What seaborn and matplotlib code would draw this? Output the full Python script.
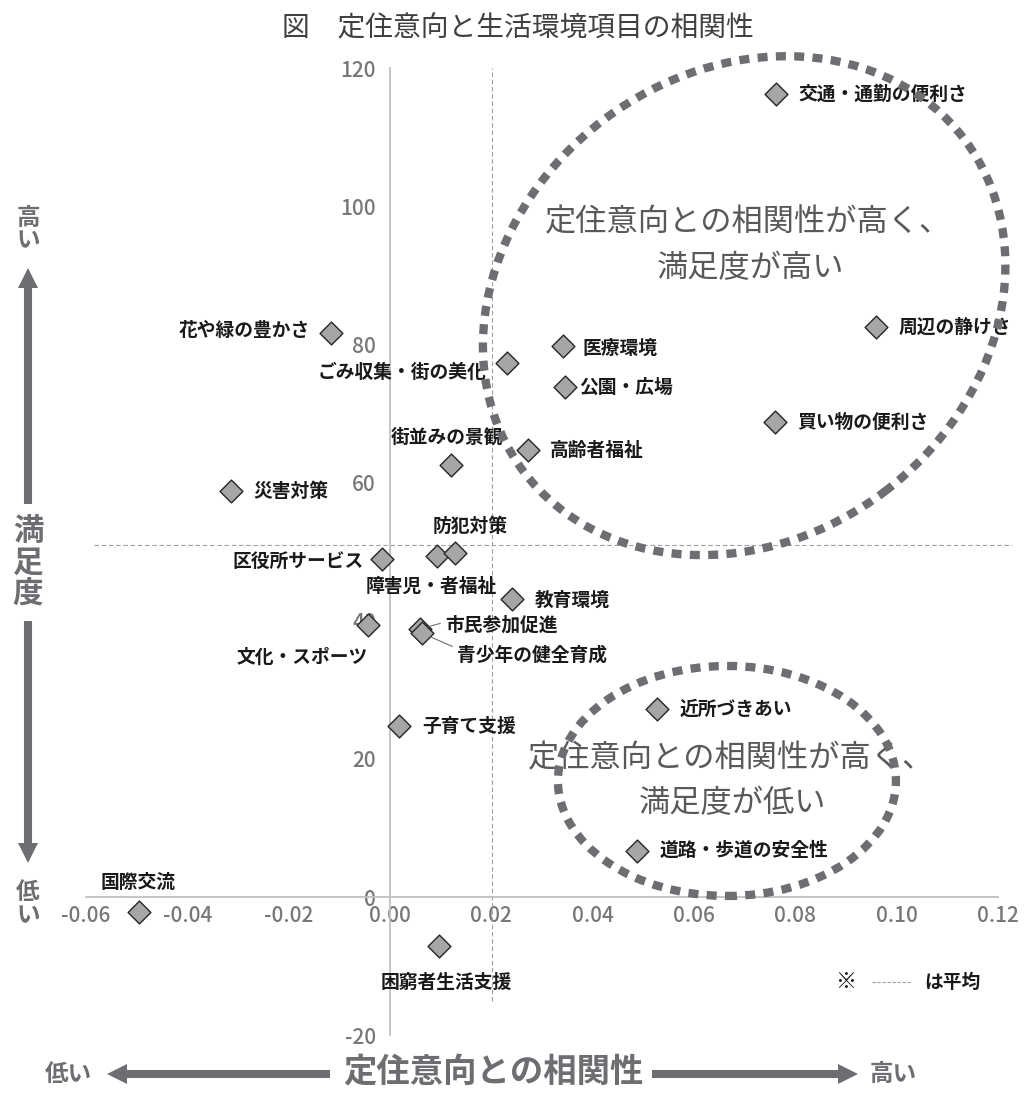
import matplotlib
matplotlib.use('Agg')
import matplotlib.pyplot as plt
import matplotlib.transforms as mtrans
from matplotlib.patches import Ellipse, FancyArrowPatch, ArrowStyle
import seaborn as sns
import pandas as pd

sns.set_theme(style='white')
plt.rcParams['font.family'] = ['Noto Sans CJK JP', 'DejaVu Sans']

# data
items = ['交通・通勤の便利さ', '周辺の静けさ', '医療環境', '公園・広場', '買い物の便利さ',
         '高齢者福祉', 'ごみ収集・街の美化', '花や緑の豊かさ', '街並みの景観', '災害対策',
         '区役所サービス', '障害児・者福祉', '防犯対策', '教育環境', '文化・スポーツ',
         '市民参加促進', '青少年の健全育成', '子育て支援', '近所づきあい', '道路・歩道の安全性',
         '国際交流', '困窮者生活支援']
correlation = [0.0761, 0.0960, 0.0342, 0.0346, 0.0760,
               0.0272, 0.0230, -0.0117, 0.0120, -0.0314,
               -0.0015, 0.0092, 0.0128, 0.0241, -0.0043,
               0.0059, 0.0063, 0.0018, 0.0526, 0.0487,
               -0.0495, 0.0097]
satisfaction = [116.2, 82.5, 79.7, 73.8, 68.8,
                64.7, 77.3, 81.6, 62.5, 58.8,
                49.0, 49.3, 49.8, 43.1, 39.4,
                38.8, 38.2, 24.7, 27.2, 6.7,
                -2.2, -7.1]
mean_corr = 0.0201
mean_sat = 51.0
x_ticks = [-0.06, -0.04, -0.02, 0.00, 0.02, 0.04, 0.06, 0.08, 0.10, 0.12]
y_ticks = [-20, 0, 20, 40, 60, 80, 100, 120]

# label offsets (pixels) and alignment
label_pos = {
    '交通・通勤の便利さ': (23, 0, 'left'),
    '周辺の静けさ': (22, 0, 'left'),
    '医療環境': (19, -2, 'left'),
    '公園・広場': (14, 0, 'left'),
    '買い物の便利さ': (22, -1, 'left'),
    '高齢者福祉': (22, 0, 'left'),
    'ごみ収集・街の美化': (-20, -9, 'right'),
    '花や緑の豊かさ': (-21, 3, 'right'),
    '街並みの景観': (-4, 28, 'center'),
    '災害対策': (22, -1, 'left'),
    '区役所サービス': (-19, -3, 'right'),
    '障害児・者福祉': (-5, -30, 'center'),
    '防犯対策': (15, 27, 'center'),
    '教育環境': (23, -1, 'left'),
    '文化・スポーツ': (0, -32, 'right'),
    '子育て支援': (23, 0, 'left'),
    '近所づきあい': (23, 0, 'left'),
    '道路・歩道の安全性': (23, 0, 'left'),
    '国際交流': (-1, 30, 'center'),
    '困窮者生活支援': (7, -36, 'center'),
}
leader_pos = {
    '市民参加促進': (25, 4, (0, 0.65)),
    '青少年の健全育成': (35, -22, (0, 0.85)),
}

df = pd.DataFrame({'item': items, 'corr': correlation, 'sat': satisfaction})

W, H = 1026, 1093
fig = plt.figure(figsize=(W / 100, H / 100), dpi=100)
ax = fig.add_axes([86 / W, 1 - 1035.2 / H, (998 - 86) / W, (1035.2 - 68) / H])

def fpx(x, y):
    return (x / W, 1 - y / H)

grey_txt = '#777777'
dark = '#6d6e71'

# mean lines
ax.plot([-0.0585, 0.1228], [mean_sat, mean_sat], color='#a0a0a0', lw=0.8,
        ls=(0, (4, 2.5)), clip_on=False, zorder=1)
ax.plot([mean_corr, mean_corr], [-15, 120], color='#a0a0a0', lw=0.8,
        ls=(0, (4, 2.5)), clip_on=False, zorder=1)

sns.scatterplot(data=df, x='corr', y='sat', marker='D', s=135, color='#a6a6a6',
                edgecolor='#262626', linewidth=1.0, ax=ax, zorder=4, legend=False)

ax.set_xlim(-0.06, 0.12)
ax.set_ylim(-20, 120)
ax.set_xticks(x_ticks)
ax.set_xticklabels([f'{v:.2f}' for v in x_ticks])
ax.set_yticks(y_ticks)
ax.set_yticklabels([str(v) for v in y_ticks])
ax.set_xlabel('')
ax.set_ylabel('')
for side in ['top', 'right']:
    ax.spines[side].set_visible(False)
ax.spines['left'].set_position(('data', 0))
ax.spines['bottom'].set_position(('data', 0))
for side in ['left', 'bottom']:
    ax.spines[side].set_color('#c0c0c0')
    ax.spines[side].set_linewidth(1.3)
ax.tick_params(axis='x', length=0, pad=6, labelsize=15, labelcolor=grey_txt)
ax.tick_params(axis='y', length=0, pad=10, labelsize=15, labelcolor=grey_txt)
for t in ax.get_xticklabels() + ax.get_yticklabels():
    t.set_fontweight('medium')
ax.patch.set_alpha(0)

# point labels
for name, xv, yv in zip(items, correlation, satisfaction):
    if name in label_pos:
        dx, dy, ha = label_pos[name]
        ax.annotate(name, (xv, yv), xytext=(dx, dy), textcoords='offset pixels',
                    ha=ha, va='center', fontsize=13.5, fontweight='bold',
                    color='#1a1a1a', zorder=5)
    else:
        dx, dy, rp = leader_pos[name]
        ax.annotate(name, (xv, yv), xytext=(dx, dy), textcoords='offset pixels',
                    ha='left', va='center', fontsize=13.5, fontweight='bold',
                    color='#1a1a1a', zorder=5,
                    arrowprops=dict(arrowstyle='-', color='#707070', lw=0.8,
                                    shrinkA=1, shrinkB=7, relpos=rp))

# dotted ellipses (size in inches, centred in data space)
def add_ellipse(cx, cy, w_in, h_in, angle):
    tr = fig.dpi_scale_trans + mtrans.ScaledTranslation(cx, cy, ax.transData)
    e = Ellipse((0, 0), w_in, h_in, angle=angle, transform=tr, fill=False,
                edgecolor=dark, lw=6, ls=(0, (1.2, 1.0)), zorder=3, clip_on=False)
    e.set_capstyle('butt')
    fig.add_artist(e)

add_ellipse(0.0699, 85.6, 5.52, 4.66, 37)
add_ellipse(0.0665, 16.8, 3.38, 2.30, 0)

ax.text(0.0707, 97.6, '定住意向との相関性が高く、', ha='center', va='center',
        fontsize=22.5, color='#595959', zorder=6)
ax.text(0.0711, 91.1, '満足度が高い', ha='center', va='center',
        fontsize=22.5, color='#595959', zorder=6)
ax.text(0.0673, 20.1, '定住意向との相関性が高く、', ha='center', va='center',
        fontsize=22.5, color='#595959', zorder=6)
ax.text(0.0677, 13.6, '満足度が低い', ha='center', va='center',
        fontsize=22.5, color='#595959', zorder=6)

# title
fig.text(*fpx(518, 28), '図　定住意向と生活環境項目の相関性', ha='center', va='center',
         fontsize=20, color='#404040')

# axis guides with arrows
arrow_style = ArrowStyle.Simple(head_length=0.72, head_width=0.72, tail_width=0.29)

def add_arrow(p0, p1):
    a = FancyArrowPatch(fpx(*p0), fpx(*p1), transform=fig.transFigure,
                        arrowstyle=arrow_style, mutation_scale=20, color=dark,
                        lw=0, shrinkA=0, shrinkB=0)
    fig.add_artist(a)

add_arrow((330, 1074), (107, 1074))
add_arrow((652, 1074), (858, 1074))
fig.text(*fpx(493, 1073), '定住意向との相関性', ha='center', va='center',
         fontsize=24, fontweight='bold', color=dark)
fig.text(*fpx(68, 1074), '低い', ha='center', va='center', fontsize=17,
         fontweight='bold', color=dark)
fig.text(*fpx(893, 1074), '高い', ha='center', va='center', fontsize=17,
         fontweight='bold', color=dark)

add_arrow((28, 504), (28, 268))
add_arrow((28, 621), (28, 863))
fig.text(*fpx(28, 563), '満\n足\n度', ha='center', va='center', fontsize=22,
         fontweight='bold', color=dark, linespacing=1.0)
fig.text(*fpx(28, 229), '高\nい', ha='center', va='center', fontsize=17,
         fontweight='bold', color=dark, linespacing=0.95)
fig.text(*fpx(28, 904), '低\nい', ha='center', va='center', fontsize=17,
         fontweight='bold', color=dark, linespacing=0.95)

# note on mean lines
fig.text(*fpx(846, 982), '※', ha='center', va='center', fontsize=15, color='#1a1a1a')
fig.add_artist(plt.Line2D([872 / W, 911 / W], [1 - 982 / H, 1 - 982 / H],
                          transform=fig.transFigure, color='#a0a0a0', lw=0.8,
                          ls=(0, (3, 1.5))))
fig.text(*fpx(924, 982), 'は平均', ha='left', va='center', fontsize=13.5,
         fontweight='bold', color='#1a1a1a')

fig.savefig('out.png', dpi=100)
